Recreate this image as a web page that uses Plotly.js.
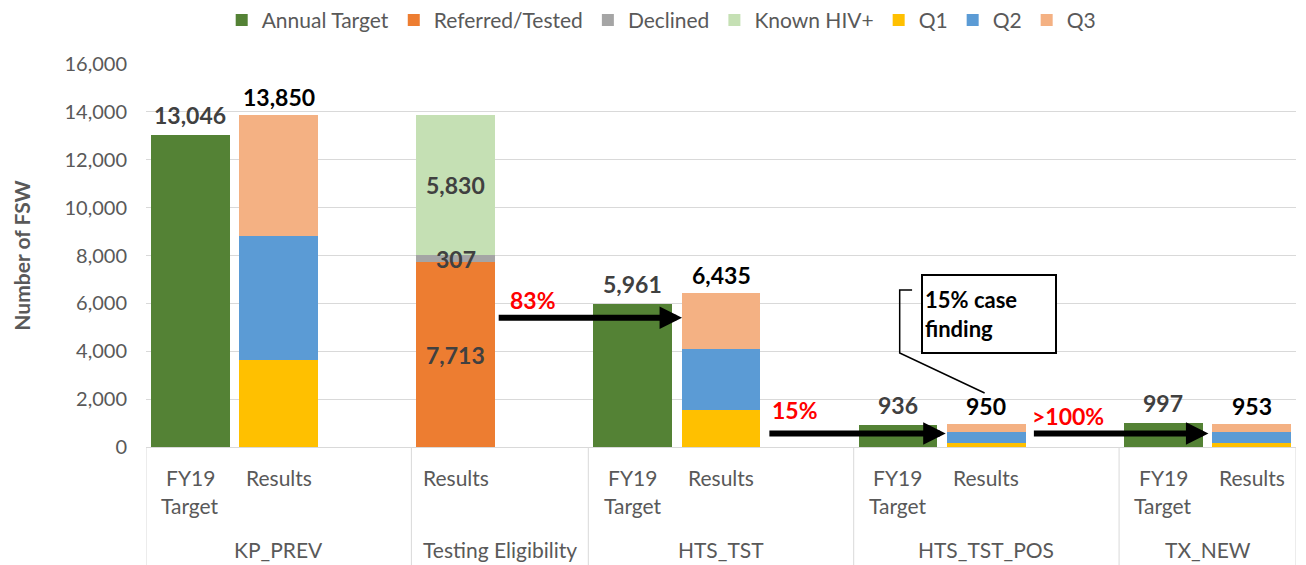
<!DOCTYPE html>
<html><head><meta charset="utf-8">
<script src="https://cdn.plot.ly/plotly-3.0.1.min.js"></script>
<style>html,body{margin:0;padding:0;background:#fff;}#chart{width:1306px;height:565px;}</style>
</head><body><div id="chart"></div>
<script>
// ---- data ----
const slotSub1 = ["FY19","Results","","Results","","FY19","Results","","FY19","Results","","FY19","Results"];
const slotSub2 = ["Target","","","","","Target","","","Target","","","Target",""];
const groupNames = ["KP_PREV","Testing Eligibility","HTS_TST","HTS_TST_POS","TX_NEW"];
const groupStart = [0,3,5,8,11];
const groupEnd = [2,4,7,10,12];

const targetSlots = [0,5,8,11];
const annualTarget = [13046,5961,936,997];
const eligSlots = [3];
const referredTested = [7713];
const declined = [307];
const knownHIV = [5830];
const resultSlots = [1,6,9,12];
const q1 = [3650,1550,180,180];
const q2 = [5150,2550,440,440];
const q3 = [5050,2335,330,333];
const flowLabels = ["83%","15%",">100%"];
const calloutText = "15% case<br>finding";

// ---- styles ----
const FONT = "Lato, 'Open Sans', sans-serif";
const GRAY = "#595959";
const C = {target:"#548235", ref:"#ED7D31", dec:"#A5A5A5", known:"#C5E0B4", q1:"#FFC000", q2:"#5B9BD5", q3:"#F4B183"};
const W = 0.89;

function bar(name, x, y, color){
  return {type:"bar", name:name, x:x, y:y, width:W, marker:{color:color}, hoverinfo:"name+y"};
}
const traces = [
  bar("Annual Target", targetSlots, annualTarget, C.target),
  bar("Referred/Tested", eligSlots, referredTested, C.ref),
  bar("Declined", eligSlots, declined, C.dec),
  bar("Known HIV+", eligSlots, knownHIV, C.known),
  bar("Q1", resultSlots, q1, C.q1),
  bar("Q2", resultSlots, q2, C.q2),
  bar("Q3", resultSlots, q3, C.q3)
];

const fmt = v => v.toLocaleString("en-US");
const ann = [];
const VS = 23;
// totals above bars
targetSlots.forEach((s,i)=>ann.push({x:s, y:annualTarget[i], text:"<b>"+fmt(annualTarget[i])+"</b>", showarrow:false, yanchor:"bottom", yshift:4, font:{family:FONT,size:VS,color:"#404040"}}));
resultSlots.forEach((s,i)=>{const t=q1[i]+q2[i]+q3[i]; ann.push({x:s, y:t, text:"<b>"+fmt(t)+"</b>", showarrow:false, yanchor:"bottom", yshift:2, font:{family:FONT,size:VS,color:"#000"}});});
// inside labels for eligibility
eligSlots.forEach((s,i)=>{
  const parts=[referredTested[i],declined[i],knownHIV[i]];
  let base=0;
  parts.forEach(v=>{ann.push({x:s, y:base+v/2, text:"<b>"+fmt(v)+"</b>", showarrow:false, font:{family:FONT,size:VS,color:"#404040"}}); base+=v;});
});
// x labels
const XS = 21;
slotSub1.forEach((t,s)=>{ if(t) ann.push({x:s, xref:"x", y:0, yref:"paper", yanchor:"middle", yshift:-30, text:t, showarrow:false, font:{family:FONT,size:XS,color:GRAY}}); });
slotSub2.forEach((t,s)=>{ if(t) ann.push({x:s, xref:"x", y:0, yref:"paper", yanchor:"middle", yshift:-58, text:t, showarrow:false, font:{family:FONT,size:XS,color:GRAY}}); });
groupNames.forEach((g,i)=>ann.push({x:(groupStart[i]+groupEnd[i])/2, xref:"x", y:0, yref:"paper", yanchor:"middle", yshift:-102, text:g, showarrow:false, font:{family:FONT,size:XS,color:GRAY}}));

// flow arrows
const arrows = [
  {x0:3.47, x1:5.56, y:5400, lx:3.87, ly:6140},
  {x0:6.53, x1:8.54, y:560, lx:6.84, ly:1560},
  {x0:9.52, x1:11.51, y:560, lx:9.92, ly:1300}
];
arrows.forEach((a,i)=>{
  ann.push({x:a.x1, y:a.y, ax:a.x0, ay:a.y, axref:"x", ayref:"y", xref:"x", yref:"y", text:"", showarrow:true, arrowhead:2, arrowsize:0.75, arrowwidth:6, arrowcolor:"#000", standoff:0, startstandoff:0});
  ann.push({x:a.lx, y:a.ly, text:"<b>"+flowLabels[i]+"</b>", showarrow:false, font:{family:FONT,size:23,color:"#FF0000"}});
});
// callout
ann.push({x:9.03, y:5560, text:"<b>"+calloutText+"</b>", showarrow:false, align:"left", valign:"middle", width:128, height:72, bgcolor:"#fff", bordercolor:"#000", borderwidth:2, borderpad:2, font:{family:FONT,size:22,color:"#000"}});

const shapes = [];
const bounds = [-0.5].concat(groupEnd.map(e=>e+0.5));
bounds.forEach(b=>shapes.push({type:"line", xref:"x", yref:"paper", x0:b, x1:b, y0:0, y1:-0.31, line:{color:"#D9D9D9", width:1}}));
shapes.push({type:"path", xref:"x", yref:"y", path:"M8.16,6559 L8.02,6559 L8.02,3927 L8.98,2256", line:{color:"#000", width:1.5}});

const layout = {
  width:1306, height:565,
  margin:{l:146, r:10, t:64, b:118, autoexpand:false},
  paper_bgcolor:"#fff", plot_bgcolor:"#fff",
  barmode:"stack",
  font:{family:FONT, color:GRAY},
  showlegend:true,
  legend:{orientation:"h", x:0.448, xanchor:"center", yref:"container", y:0.964, yanchor:"middle", font:{family:FONT,size:21,color:GRAY}, itemwidth:30, tracegroupgap:0, traceorder:"normal"},
  xaxis:{range:[-0.5,12.5], showticklabels:false, showgrid:false, zeroline:false, showline:true, linecolor:"#D9D9D9", ticks:"", fixedrange:true},
  yaxis:{range:[0,16000], dtick:2000, tickformat:",", showgrid:true, gridcolor:"#D9D9D9", zeroline:false, ticks:"outside", ticklen:14, tickcolor:"rgba(0,0,0,0)", tickfont:{family:FONT,size:20,color:GRAY},
    title:{text:"<b>Number of FSW</b>", font:{family:FONT,size:21,color:GRAY}, standoff:28}},
  annotations:ann,
  shapes:shapes
};
Plotly.newPlot("chart", traces, layout, {displayModeBar:false, staticPlot:true});
</script>
</body></html>
